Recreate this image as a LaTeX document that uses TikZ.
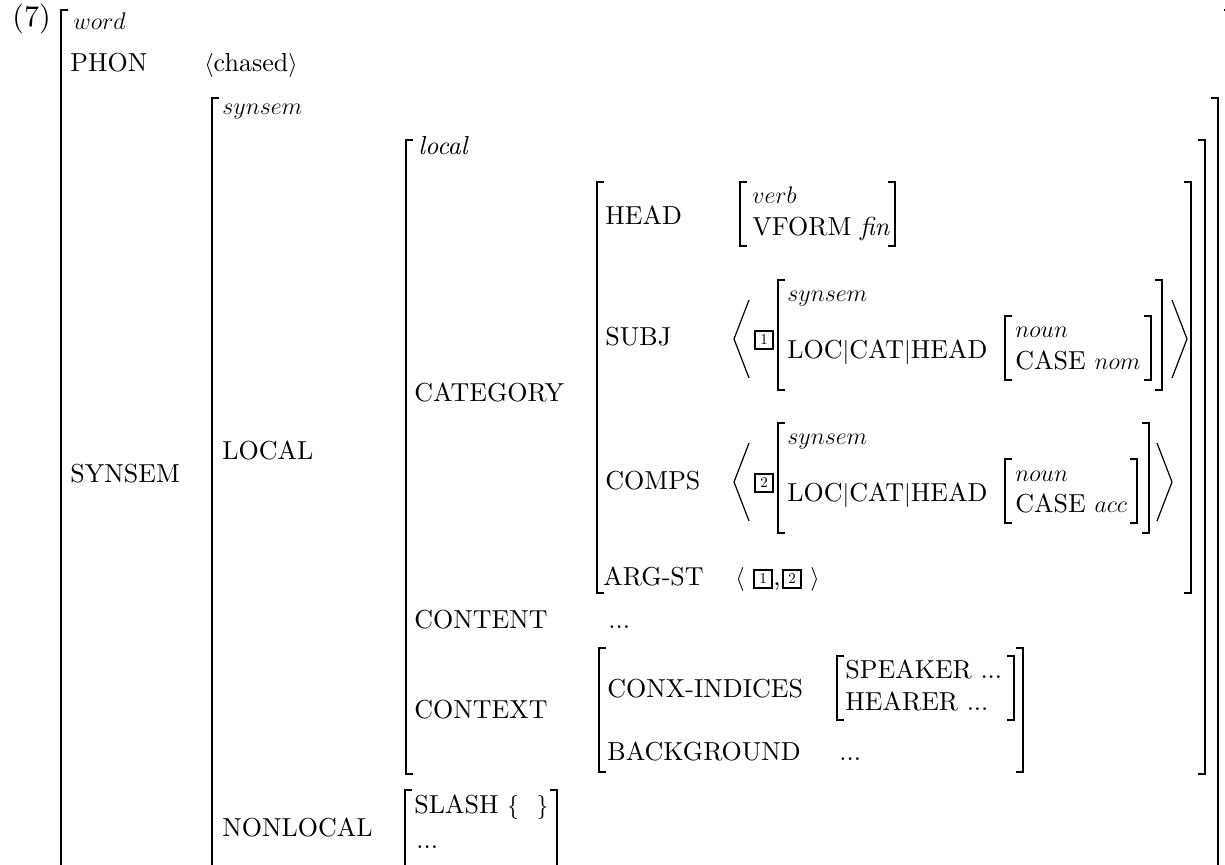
\documentclass[tikz,border=0pt]{standalone}
\usepackage{fontspec}
\setmainfont{lmroman10-regular.otf}[ItalicFont=lmroman10-italic.otf]

% square brackets and angle brackets of the matrix
\newcommand\lbrk[3]{\draw[brk] (#1+7,#2) -- (#1,#2) -- (#1,#3) -- (#1+7,#3);}
\newcommand\rbrk[3]{\draw[brk] (#1-7,#2) -- (#1,#2) -- (#1,#3) -- (#1-7,#3);}
\newcommand\angl[3]{\draw[ang] (#1+15,#2) -- (#1,{(#2+#3)/2}) -- (#1+15,#3);}
\newcommand\angr[3]{\draw[ang] (#1-15,#2) -- (#1,{(#2+#3)/2}) -- (#1-15,#3);}

\begin{document}
\fontsize{13}{15}\selectfont
\begin{tikzpicture}[x=0.5pt, y=-0.5pt,
    lbl/.style={inner sep=0pt, anchor=base west},
    brk/.style={line width=0.8pt},
    ang/.style={line width=0.6pt},
    tag/.style={draw, line width=1.1pt, minimum size=8.8pt, inner sep=0pt,
                font=\fontsize{7.5}{7.5}\selectfont}]

    \useasboundingbox (0,0) rectangle (1225,865);
    \clip (0,0) rectangle (1225,865);

    \def\Xa{70};
    \def\Xb{222};
    \def\Xc{414};
    \def\Xd{605};
    \def\Xe{752};
    \def\Xf{787};
    \def\Xg{1015};

    % brackets
    \lbrk{61}{10}{900}    \rbrk{1231}{10}{900}
    \lbrk{212}{98}{890}   \rbrk{1218}{98}{890}
    \lbrk{406}{140}{774}  \rbrk{1205}{140}{774}
    \lbrk{597}{182}{593}  \rbrk{1191}{182}{593}
    \lbrk{740}{182}{246}  \rbrk{895}{182}{246}
    \lbrk{778}{280}{390}  \rbrk{1162}{280}{390}
    \lbrk{1005}{316}{380} \rbrk{1151}{316}{380}
    \lbrk{778}{423}{533}  \rbrk{1149}{423}{533}
    \lbrk{1005}{459}{523} \rbrk{1137}{459}{523}
    \lbrk{599}{648}{772}  \rbrk{1023}{648}{772}
    \lbrk{837}{656}{720}  \rbrk{1014}{656}{720}
    \lbrk{405}{790}{880}  \rbrk{557}{790}{880}

    % lists
    \angl{734}{300}{378}  \angr{1187}{300}{378}
    \angl{734}{443}{521}  \angr{1172}{443}{521}

    % labels
    \node[lbl, font=\fontsize{15}{17}\selectfont] (ex) at (12,27) {(7)};
    \node[lbl] (tword) at (73,30) {$word$};
    \node[lbl] (phon) at (\Xa,72) {PHON};
    \node[lbl] (chased) at (204,72) {$\langle$chased$\rangle$};
    \node[lbl] (synsem) at (\Xa,483) {SYNSEM};
    \node[lbl] (tsynsem) at (\Xb,115) {$synsem$};
    \node[lbl] (local) at (\Xb,460) {LOCAL};
    \node[lbl] (nonlocal) at (\Xb,836) {NONLOCAL};
    \node[lbl] (tlocal) at (418,155) {\textit{local}};
    \node[lbl] (category) at (\Xc,402) {CATEGORY};
    \node[lbl] (content) at (\Xc,628) {CONTENT};
    \node[lbl] (contentv) at (608,628) {...};
    \node[lbl] (context) at (\Xc,718) {CONTEXT};
    \node[lbl] (slash) at (\Xc,813) {SLASH $\{\ \ \}$};
    \node[lbl] (slashv) at (416,848) {...};

    \node[lbl] (head) at (\Xd,225) {HEAD};
    \node[lbl] (tverb) at (\Xe,204) {$verb$};
    \node[lbl] (vform) at (\Xe,236) {VFORM \textit{fin}};

    \node[lbl] (subj) at (\Xd,346) {SUBJ};
    \node[tag] (tag1) at (764,340) {1};
    \node[lbl] (tsyn1) at (\Xf,302) {$synsem$};
    \node[lbl] (loc1) at (\Xf,359) {LOC$|$CAT$|$HEAD};
    \node[lbl] (tnoun1) at (\Xg,338) {$noun$};
    \node[lbl] (case1) at (\Xg,370) {CASE $nom$};

    \node[lbl] (comps) at (\Xd,489) {COMPS};
    \node[tag] (tag2) at (764,483) {2};
    \node[lbl] (tsyn2) at (\Xf,445) {$synsem$};
    \node[lbl] (loc2) at (\Xf,502) {LOC$|$CAT$|$HEAD};
    \node[lbl] (tnoun2) at (\Xg,481) {$noun$};
    \node[lbl] (case2) at (\Xg,513) {CASE $acc$};

    \node[lbl] (argst) at (603,585) {ARG-ST};
    \node[lbl] (argl) at (735,585) {$\langle$};
    \node[tag] (ta1) at (763,579) {1};
    \node[lbl] (argc) at (773,585) {,};
    \node[tag] (ta2) at (792,579) {2};
    \node[lbl] (argr) at (810,585) {$\rangle$};

    \node[lbl] (conx) at (607,697) {CONX-INDICES};
    \node[lbl] (speaker) at (845,678) {SPEAKER ...};
    \node[lbl] (hearer) at (845,710) {HEARER ...};
    \node[lbl] (backgr) at (607,760) {BACKGROUND};
    \node[lbl] (backv) at (839,760) {...};
\end{tikzpicture}
\end{document}
